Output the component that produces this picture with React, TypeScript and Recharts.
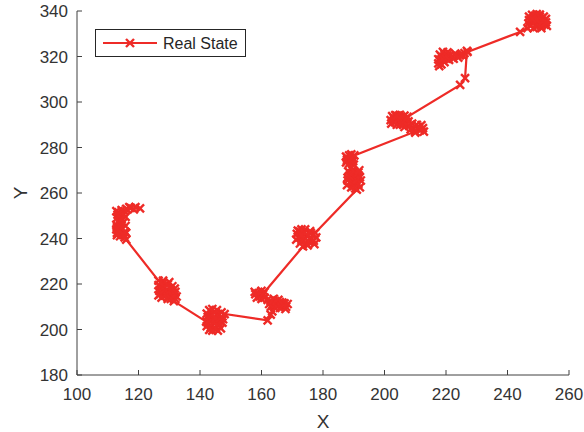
import { LineChart, Line, XAxis, YAxis, Legend } from 'recharts';

// trajectory, in order (one line per cluster)
const stateX = [
  120.5, 119, 118.5, 117.5, 117, 116, 115.5, 114.5, 113.5, 112.8, 115, 114, 113.2, 115.8, 113, 114.5, 113.5, 115, 114, 112.8, 115.8, 113, 114.5, 112.8, 113.5, 115.6, 113, 114.5, 116, 113, 114, 115.5, 115, 116,
  126.5, 128, 128, 130, 127, 126.5, 128.5, 129.5, 131, 131.8, 127.5, 126.8, 129, 128, 130.5, 130, 128.5, 127, 126.5, 127.5, 129.5, 129.5, 131, 132, 132.4, 132, 130.5, 131.5,
  142, 142.5, 142.2, 143.5, 143, 144, 145.8, 145, 146.8, 146, 147.3, 146, 144.5, 143, 144.2, 142.5, 142.2, 143.5, 143, 144, 144.5, 146, 145.5, 147, 145, 146.5, 147.5, 148,
  162, 163, 163.5, 163, 164.5, 165, 165.5, 166, 167.8, 167, 168, 168.5, 167.5, 166.8, 166, 165.5, 164.5, 164, 163.8, 162.5, 163, 162, 161, 160, 159.5, 158.5, 158, 157.8, 159, 160, 160.5, 161,
  173.5, 175, 174.5, 172.5, 173, 171.3, 172, 174, 171.5, 171.8, 172.5, 173, 174.2, 174, 173, 175, 176, 175.5, 177.2, 177, 177.8, 176.5, 176, 175.8, 177.5,
  191, 190.5, 189.2, 192, 190, 187.8, 191.5, 189, 190.5, 192.3, 188, 189.5, 188, 191, 192, 191.5, 190.5, 189, 188.5, 188.2, 189.5, 190, 191.5, 191.8,
  189, 190, 188.5, 187.5, 189.8, 187.8, 188, 187.5, 188.5, 189.2, 189.5, 190.2,
  210, 210, 211.5, 212.8, 212.5, 212, 211, 210.5, 209.5, 208.5, 208, 209, 207.8, 206.5, 206, 205, 204, 204.8, 203.5, 202.2, 202, 203, 203, 202.5, 203.5, 204.5, 205, 206.5, 206, 205.5, 204, 207, 207.5,
  224.6, 226.2, 226.8,
  225, 226, 224.5, 223.5, 223, 222, 221, 220.5, 220.5, 219.5, 219, 218.5, 218, 217.5, 218, 217.5, 217.8, 218.5, 219.5, 219, 220, 221, 222.5, 224, 225.5, 227,
  244.1,
  246.5, 247.5, 248.5, 249.5, 251, 252.8, 252, 251, 250, 249.5, 248, 246.8, 247, 247.8, 248.5, 247, 248, 249, 249.5, 250.5, 250.5, 251.8, 252.5, 251, 250, 249.5, 248, 251.5, 252.5,
];
const stateY = [
  253.2, 253.8, 252.8, 253.5, 253.8, 253, 252, 252.5, 251.5, 252, 251, 250, 250.5, 249.5, 249, 248.5, 247.5, 247, 246, 246, 245.5, 245, 244.5, 244, 243.5, 243, 242.5, 242, 242.5, 241.5, 241, 240.5, 241.8, 239.5,
  221.5, 221.5, 220.5, 220.8, 219, 219.5, 218.5, 219.8, 219, 218, 217.5, 217, 216.5, 216, 217.5, 215.5, 215, 215.5, 215, 214, 214.5, 213.5, 215, 216.5, 214.5, 213.5, 213.5, 212.5,
  203.5, 203, 201.5, 201, 199.8, 199.5, 199.5, 200.5, 200.5, 202, 203, 203.5, 203, 204, 205, 205.5, 207, 206, 208.5, 209, 207.5, 206.5, 208.5, 207.5, 205, 205, 204.5, 206.8,
  204, 206.5, 208, 210, 209.5, 210.2, 211, 209.5, 209, 210.5, 210, 211.2, 211.5, 211.8, 212, 213, 212.5, 213.5, 211.5, 211.2, 212.5, 213, 214, 213.5, 214.5, 214, 215.5, 216.5, 216, 217, 215.5, 216.5,
  236.5, 237, 238, 237.8, 239, 239.5, 240.5, 240, 242, 243.5, 243, 244, 244, 242.5, 241.5, 241, 240, 238.5, 237.5, 239, 240.5, 241.5, 242.5, 243.2, 242.5,
  261.5, 262, 262.5, 262.5, 263, 263.5, 264, 264.5, 265.2, 265.5, 265.5, 266.5, 266.8, 266, 267, 267.8, 268, 268.5, 267.5, 269.5, 270, 269.5, 269, 270,
  271, 272.5, 273, 273.5, 274, 274.5, 275.2, 276, 276.5, 277, 275.5, 276.5,
  287, 286.5, 287.5, 287, 288.5, 289.8, 289, 290, 288.5, 288, 289.5, 290.5, 291.5, 289, 290.2, 290, 290, 291.2, 291, 290.5, 292, 291.8, 293, 293.8, 294.2, 292.5, 294.3, 294, 291.5, 293.5, 294, 292.5, 293.5,
  307.5, 310.5, 322.5,
  321, 321.5, 320.5, 320.5, 321.3, 320, 320, 320.5, 321.8, 321, 322, 320, 320.8, 318.8, 318.5, 317, 315.8, 316.5, 317.5, 319, 319, 318.5, 319, 319.5, 320.5, 322,
  330.8,
  332.5, 333.5, 332.5, 333, 332.5, 333.5, 334, 333.5, 334.5, 334.5, 335, 334.5, 336, 335.8, 337, 337.5, 338.3, 338, 338.6, 338.4, 337.5, 337.5, 336.5, 336.5, 336.3, 336, 336.5, 335.5, 335,
];
const xTicks = [100, 120, 140, 160, 180, 200, 220, 240, 260];
const yTicks = [180, 200, 220, 240, 260, 280, 300, 320, 340];

const data = stateX.map((x, i) => ({ x, y: stateY[i] }));

const RED = '#ee2b27';
const AXIS = '#404040';
const FONT = '"Liberation Sans", Arial, sans-serif';

const XMark = (props: any) => {
  const { cx, cy } = props;
  if (cx == null || cy == null) return <g key={props.key} />;
  const s = 4;
  return (
    <path
      key={props.key}
      d={`M${cx - s},${cy - s}L${cx + s},${cy + s}M${cx + s},${cy - s}L${cx - s},${cy + s}`}
      stroke={RED}
      strokeWidth={2.4}
      fill="none"
    />
  );
};

const LegendBox = () => (
  <svg width={151} height={28} style={{ display: 'block' }}>
    <rect x={0.5} y={0.5} width={150} height={27} fill="#fff" stroke="#262626" strokeWidth={1} />
    <line x1={8} y1={14} x2={62} y2={14} stroke={RED} strokeWidth={2.2} />
    <path d="M31,10L39,18M39,10L31,18" stroke={RED} strokeWidth={2.4} />
    <text x={68} y={19.5} fontSize={16} fontFamily={FONT} fill="#262626">
      Real State
    </text>
  </svg>
);

export default function App() {
  return (
    <div style={{ position: 'absolute', left: 0, top: 0 }}>
      <LineChart width={584} height={432} data={data} margin={{ top: 11, right: 15, bottom: 0, left: 0 }}>
        <XAxis
          type="number"
          dataKey="x"
          domain={[100, 260]}
          ticks={xTicks}
          height={57}
          tickSize={-5}
          tickMargin={18}
          stroke={AXIS}
          tick={{ fill: '#333', fontSize: 17, fontFamily: FONT }}
          label={{ value: 'X', position: 'insideBottom', offset: 4, fill: '#333', fontSize: 19, fontFamily: FONT }}
        />
        <YAxis
          type="number"
          dataKey="y"
          domain={[180, 340]}
          ticks={yTicks}
          width={77}
          tickSize={-5}
          tickMargin={14}
          stroke={AXIS}
          tick={{ fill: '#333', fontSize: 17, fontFamily: FONT }}
          label={(p: any) => {
            const vb = p.viewBox || {};
            const cy = (vb.y ?? 11) + (vb.height ?? 364) / 2;
            return (
              <text x={20} y={cy} transform={`rotate(-90 20 ${cy})`} textAnchor="middle" dominantBaseline="central" fill="#333" fontSize={19} fontFamily={FONT}>
                Y
              </text>
            );
          }}
        />
        <Legend
          layout="horizontal"
          verticalAlign="middle"
          align="center"
          wrapperStyle={{ left: 95, top: 29, width: 151, height: 28 }}
          content={() => <LegendBox />}
        />
        <Line
          dataKey="y"
          stroke={RED}
          strokeWidth={2.2}
          dot={XMark}
          activeDot={false}
          isAnimationActive={false}
        />
      </LineChart>
    </div>
  );
}
